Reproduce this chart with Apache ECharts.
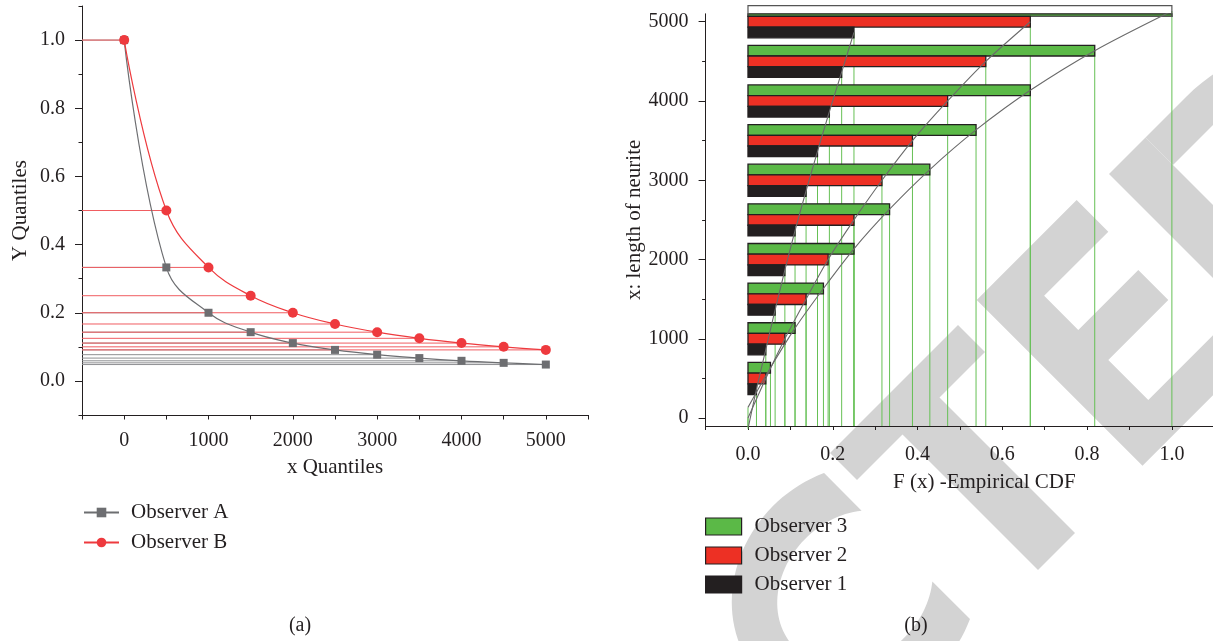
<!DOCTYPE html>
<html>
<head>
<meta charset="utf-8">
<script src="https://cdn.jsdelivr.net/npm/echarts@6/dist/echarts.min.js"></script>
<style>
html,body{margin:0;padding:0;background:#ffffff;}
#chart{width:1213px;height:641px;}
</style>
</head>
<body>
<div id="chart"></div>
<script>
// ---------------- data: panel (a) ----------------
const xQuantiles = [0, 500, 1000, 1500, 2000, 2500, 3000, 3500, 4000, 4500, 5000];
const observerA = [1.0, 0.333, 0.2, 0.143, 0.111, 0.091, 0.077, 0.067, 0.059, 0.053, 0.048];
const observerB = [1.0, 0.5, 0.333, 0.25, 0.2, 0.167, 0.143, 0.125, 0.111, 0.1, 0.091];
const leftXLabels = [0, 1000, 2000, 3000, 4000, 5000];
const leftYLabels = [0, 0.2, 0.4, 0.6, 0.8, 1.0];

// ---------------- data: panel (b) ----------------
const neuriteLengths = [0, 500, 1000, 1500, 2000, 2500, 3000, 3500, 4000, 4500, 5000];
const observer1 = [0, 0.020, 0.042, 0.064, 0.087, 0.111, 0.137, 0.164, 0.192, 0.221, 0.250];
const observer2 = [0, 0.042, 0.087, 0.137, 0.189, 0.250, 0.316, 0.388, 0.471, 0.561, 0.666];
const observer3 = [0, 0.053, 0.111, 0.178, 0.250, 0.334, 0.429, 0.538, 0.666, 0.818, 1.000];
const rightXLabels = [0, 0.2, 0.4, 0.6, 0.8, 1.0];
const rightYLabels = [0, 1000, 2000, 3000, 4000, 5000];
const rightYMinorTicks = [500, 1500, 2500, 3500, 4500];

// ---------------- styling ----------------
const FONT = '"Liberation Serif", "DejaVu Serif", serif';
const INK = '#231f20';
const GREEN = '#5bb947';
const RED = '#ed3024';
const BLACK = '#231f20';
const GRAY = '#6d6e71';
const RED_A = '#ee3a3e';
const VLINE = '#66c055';
const BAR_H = 135;       // bar thickness in y-data units
const OFF3 = BAR_H, OFF2 = 0, OFF1 = -BAR_H;

const chart = echarts.init(document.getElementById('chart'), null, {renderer: 'canvas'});

function zip(xs, ys, off) { return xs.map((x, i) => [x, ys[i] + (off || 0)]); }

function hLineRender(color) {
  return function (params, api) {
    const cs = params.coordSys;
    const p = api.coord([api.value(0), api.value(1)]);
    return {type: 'line', shape: {x1: cs.x, y1: p[1], x2: p[0], y2: p[1]},
            style: {stroke: color, lineWidth: 1}};
  };
}

function barRender(offset, color) {
  return function (params, api) {
    const x = api.value(0);
    if (!(x > 0)) return null;
    const y = api.value(1) + offset;
    const cs = params.coordSys;
    const p0 = api.coord([0, y]);
    const p1 = api.coord([x, y]);
    const h = api.size([0, BAR_H])[1];
    const top = p0[1] - h / 2, bottom = p0[1] + h / 2;
    const w = p1[0] - p0[0];
    const children = [];
    const ct = Math.max(top, cs.y);
    if (ct < bottom) {
      children.push({type: 'rect', shape: {x: p0[0], y: ct, width: w, height: bottom - ct},
        style: {fill: color, stroke: INK, lineWidth: 1.3}});
    }
    if (top < cs.y) {
      children.push({type: 'rect', shape: {x: p0[0], y: top, width: w, height: h},
        style: {fill: 'none', stroke: '#555', lineWidth: 1.2}});
    }
    return {type: 'group', children: children};
  };
}

function vLineRender(params, api) {
  const cs = params.coordSys;
  const p = api.coord([api.value(0), api.value(1) + api.value(2)]);
  const yb = cs.y + cs.height;
  return {type: 'line', shape: {x1: p[0], y1: Math.max(p[1], cs.y - 10), x2: p[0], y2: yb},
          style: {stroke: VLINE, lineWidth: 1}};
}

const vLineData = [];
[[observer3, OFF3], [observer2, OFF2], [observer1, OFF1]].forEach(([obs, off]) => {
  neuriteLengths.forEach((L, i) => vLineData.push([obs[i], L, off]));
});

// ---------------- watermark (decorative) ----------------
function wp(d, s) { return [(s + d) / 2, (s - d) / 2]; }
function polyFrom(list) { return list.map(p => wp(p[0], p[1])); }
const wmElements = [];
(function () {
  const cD = 267, cS = 1443;
  const pts = [];
  const rad = a => a * Math.PI / 180;
  for (let a = 62.8; a <= 297.2; a += 3) pts.push(wp(cD + 184 * Math.cos(rad(a)), cS + 164 * Math.sin(rad(a))));
  pts.push(wp(cD + 184 * Math.cos(rad(297.2)), cS + 164 * Math.sin(rad(297.2))));
  for (let a = 314.4; a >= 45.6; a -= 3) pts.push(wp(cD + 120 * Math.cos(rad(a)), cS + 99 * Math.sin(rad(a))));
  pts.push(wp(cD + 120 * Math.cos(rad(45.6)), cS + 99 * Math.sin(rad(45.6))));
  wmElements.push(pts);
  // T
  wmElements.push(polyFrom([[377,1283],[633,1283],[633,1337],[542,1337],[542,1608],[468,1608],[468,1337],[377,1337]]));
  // E
  wmElements.push(polyFrom([[676.7,1276.7],[876.6,1276.7],[876.6,1340],[748.3,1340],[748.3,1408.3],[868.3,1408.3],
    [868.3,1468.3],[748.3,1468.3],[748.3,1548.3],[890,1548.3],[890,1608.3],[676.7,1608.3]]));
  // D spine
  wmElements.push(polyFrom([[935,1283],[1008,1283],[1008,1608],[935,1608]]));
  // D bowl
  const dp = [[1008,1283],[1090,1283]];
  for (let a = -90; a <= 90; a += 4) dp.push([1090 + 210 * Math.cos(rad(a)), 1445.5 + 162.5 * Math.sin(rad(a))]);
  dp.push([1090,1608],[1008,1608],[1008,1553],[1090,1553]);
  for (let a = 90; a >= -90; a -= 4) dp.push([1090 + 140 * Math.cos(rad(a)), 1445.5 + 107.5 * Math.sin(rad(a))]);
  dp.push([1090,1338],[1008,1338]);
  wmElements.push(polyFrom(dp));
})();

const graphics = wmElements.map(pts => ({
  type: 'polygon', silent: true, z: -10,
  shape: {points: pts}, style: {fill: '#d3d3d3'}
}));
graphics.push({type: 'text', x: 300, y: 626, z: 10, silent: true,
  style: {text: '(a)', font: '20px ' + FONT, fill: INK, align: 'center', verticalAlign: 'middle'}});
graphics.push({type: 'text', x: 916, y: 626, z: 10, silent: true,
  style: {text: '(b)', font: '20px ' + FONT, fill: INK, align: 'center', verticalAlign: 'middle'}});

const axisLineStyle = {onZero: false, lineStyle: {color: INK, width: 1}};
const labelStyle = {fontFamily: FONT, fontSize: 20, color: INK};
const nameStyle = {fontFamily: FONT, fontSize: 21, color: INK};

const option = {
  backgroundColor: '#ffffff',
  animation: false,
  graphic: {elements: graphics},
  legend: [
    {
      data: ['Observer A', 'Observer B'],
      orient: 'vertical', left: 83, top: 502, padding: 0,
      itemWidth: 35, itemHeight: 12, itemGap: 9,
      selectedMode: false,
      textStyle: {fontFamily: FONT, fontSize: 21, color: INK, padding: [0, 0, 0, 7]}
    },
    {
      data: [
        {name: 'Observer 3', itemStyle: {color: GREEN, borderColor: INK, borderWidth: 1.2}},
        {name: 'Observer 2', itemStyle: {color: RED, borderColor: INK, borderWidth: 1.2}},
        {name: 'Observer 1', itemStyle: {color: BLACK, borderColor: INK, borderWidth: 1.2}}
      ],
      orient: 'vertical', left: 705, top: 516, padding: 0,
      icon: 'rect', itemWidth: 36, itemHeight: 17, itemGap: 8,
      selectedMode: false,
      textStyle: {fontFamily: FONT, fontSize: 21, color: INK, padding: [0, 0, 0, 8]}
    }
  ],
  grid: [
    {left: 82, top: 6, width: 506, height: 409},
    {left: 705.6, top: 13.8, width: 507.4, height: 412.2}
  ],
  xAxis: [
    {
      gridIndex: 0, type: 'value', min: -500, max: 5500, interval: 500,
      axisLine: axisLineStyle, splitLine: {show: false},
      axisTick: {length: 4.5, lineStyle: {color: INK}},
      axisLabel: Object.assign({customValues: leftXLabels, margin: 16, formatter: v => String(v)}, labelStyle),
      name: 'x Quantiles', nameLocation: 'middle', nameGap: 42, nameTextStyle: nameStyle
    },
    {
      gridIndex: 1, type: 'value', min: -0.1, max: 1.097, interval: 0.1,
      axisLine: axisLineStyle, splitLine: {show: false},
      axisTick: {length: 4, lineStyle: {color: INK}},
      axisLabel: Object.assign({customValues: rightXLabels, margin: 19, formatter: v => v.toFixed(1)}, labelStyle),
      name: 'F (x) -Empirical CDF', nameLocation: 'middle', nameGap: 46,
      nameTextStyle: Object.assign({padding: [0, 0, 0, 50]}, nameStyle)
    }
  ],
  yAxis: [
    {
      gridIndex: 0, type: 'value', position: 'left', min: -0.1, max: 1.1, interval: 0.1,
      axisLine: axisLineStyle, splitLine: {show: false},
      axisTick: {length: 3.5, lineStyle: {color: INK}},
      axisLabel: Object.assign({customValues: leftYLabels, margin: 17, formatter: v => v.toFixed(1)}, labelStyle),
      name: 'Y Quantiles', nameLocation: 'middle', nameGap: 51, nameTextStyle: nameStyle
    },
    {
      gridIndex: 0, type: 'value', position: 'left', min: -0.1, max: 1.1,
      axisLine: {show: false, onZero: false}, splitLine: {show: false}, axisLabel: {show: false},
      axisTick: {customValues: leftYLabels, length: 7, lineStyle: {color: INK}}
    },
    {
      gridIndex: 1, type: 'value', position: 'left', min: -100, max: 5100,
      axisLine: axisLineStyle, splitLine: {show: false},
      axisTick: {customValues: rightYLabels, length: 7, lineStyle: {color: INK}},
      axisLabel: Object.assign({customValues: rightYLabels, margin: 17, formatter: v => String(v)}, labelStyle),
      name: 'x: length of neurite', nameLocation: 'middle', nameGap: 52, nameTextStyle: nameStyle
    },
    {
      gridIndex: 1, type: 'value', position: 'left', min: -100, max: 5100,
      axisLine: {show: false, onZero: false}, splitLine: {show: false}, axisLabel: {show: false},
      axisTick: {customValues: rightYMinorTicks, length: 3.5, lineStyle: {color: INK}}
    }
  ],
  series: [
    // panel (a) guide lines
    {type: 'custom', xAxisIndex: 0, yAxisIndex: 0, z: 1, silent: true,
     renderItem: hLineRender('#8e8f92'), data: zip(xQuantiles, observerA)},
    {type: 'custom', xAxisIndex: 0, yAxisIndex: 0, z: 1, silent: true,
     renderItem: hLineRender('#f05d61'), data: zip(xQuantiles, observerB)},
    {
      name: 'Observer A', type: 'line', xAxisIndex: 0, yAxisIndex: 0, z: 4,
      data: zip(xQuantiles, observerA), smooth: 0.4,
      symbol: 'rect', symbolSize: 8,
      itemStyle: {color: GRAY}, lineStyle: {color: GRAY, width: 1.2}
    },
    {
      name: 'Observer B', type: 'line', xAxisIndex: 0, yAxisIndex: 0, z: 5,
      data: zip(xQuantiles, observerB), smooth: 0.4,
      symbol: 'circle', symbolSize: 10,
      itemStyle: {color: RED_A}, lineStyle: {color: RED_A, width: 1.2}
    },
    // panel (b) vertical drop lines
    {type: 'custom', xAxisIndex: 1, yAxisIndex: 2, z: 1, silent: true,
     renderItem: vLineRender, data: vLineData},
    // panel (b) bars
    {name: 'Observer 3', type: 'custom', xAxisIndex: 1, yAxisIndex: 2, z: 2, clip: false,
     itemStyle: {color: GREEN, borderColor: INK, borderWidth: 1},
     renderItem: barRender(OFF3, GREEN), data: zip(observer3, neuriteLengths)},
    {name: 'Observer 2', type: 'custom', xAxisIndex: 1, yAxisIndex: 2, z: 2, clip: false,
     itemStyle: {color: RED, borderColor: INK, borderWidth: 1},
     renderItem: barRender(OFF2, RED), data: zip(observer2, neuriteLengths)},
    {name: 'Observer 1', type: 'custom', xAxisIndex: 1, yAxisIndex: 2, z: 2, clip: false,
     itemStyle: {color: BLACK, borderColor: INK, borderWidth: 1},
     renderItem: barRender(OFF1, BLACK), data: zip(observer1, neuriteLengths)},
    // panel (b) CDF curves through bar ends
    {type: 'line', xAxisIndex: 1, yAxisIndex: 2, z: 6, silent: true, symbol: 'none', smooth: 0.3,
     lineStyle: {color: '#6a6a6a', width: 1.1}, data: zip(observer3, neuriteLengths, OFF3)},
    {type: 'line', xAxisIndex: 1, yAxisIndex: 2, z: 6, silent: true, symbol: 'none', smooth: 0.3,
     lineStyle: {color: '#6a6a6a', width: 1.1}, data: zip(observer2, neuriteLengths, OFF2)},
    {type: 'line', xAxisIndex: 1, yAxisIndex: 2, z: 6, silent: true, symbol: 'none', smooth: 0.3,
     lineStyle: {color: '#6a6a6a', width: 1.1}, data: zip(observer1, neuriteLengths, OFF1)}
  ]
};
chart.setOption(option);
</script>
</body>
</html>
